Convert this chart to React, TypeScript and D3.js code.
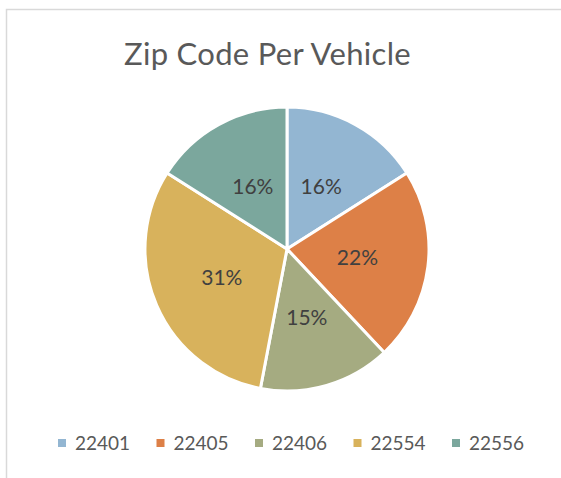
import { useEffect, useRef } from 'react';
import * as d3 from 'd3';

const zipCodes = ['22401', '22405', '22406', '22554', '22556'];
const vehicleCounts = [16, 22, 15, 31, 16];
const sliceColors = ['#93b6d2', '#dd8047', '#a5ab81', '#d8b25c', '#7ba79d'];

const chartTitle = 'Zip Code Per Vehicle';

export default function App() {
  const svgRef = useRef<SVGSVGElement | null>(null);

  useEffect(() => {
    if (!svgRef.current) return;
    const svg = d3.select(svgRef.current);
    svg.selectAll('*').remove();

    const width = 561;
    const height = 478;
    const cx = 287;
    const cy = 249;
    const radius = 142;
    const font = "'Lato', 'Open Sans', sans-serif";

    svg.attr('viewBox', `0 0 ${width} ${height}`);

    svg
      .append('rect')
      .attr('width', width)
      .attr('height', height)
      .attr('fill', '#ffffff');

    // chart frame, runs off right/bottom edges
    svg
      .append('rect')
      .attr('x', 6.5)
      .attr('y', 9.5)
      .attr('width', 700)
      .attr('height', 600)
      .attr('fill', 'none')
      .attr('stroke', '#d9d9d9')
      .attr('stroke-width', 1.5);

    svg
      .append('text')
      .attr('x', 267.5)
      .attr('y', 65)
      .attr('text-anchor', 'middle')
      .style('font-family', font)
      .style('font-size', '31px')
      .style('letter-spacing', '0.3px')
      .attr('fill', '#595959')
      .text(chartTitle);

    const data = zipCodes.map((zip, i) => ({ zip, value: vehicleCounts[i] }));
    const total = d3.sum(vehicleCounts);

    const color = d3.scaleOrdinal<string, string>().domain(zipCodes).range(sliceColors);

    const pie = d3
      .pie<{ zip: string; value: number }>()
      .value((d) => d.value)
      .sort(null);

    const arc = d3
      .arc<d3.PieArcDatum<{ zip: string; value: number }>>()
      .innerRadius(0)
      .outerRadius(radius);

    const g = svg.append('g').attr('transform', `translate(${cx},${cy})`);
    const arcs = pie(data);

    g.selectAll('path')
      .data(arcs)
      .join('path')
      .attr('d', arc)
      .attr('fill', (d) => color(d.data.zip))
      .attr('stroke', '#ffffff')
      .attr('stroke-width', 3)
      .attr('stroke-linejoin', 'round');

    g.selectAll('text')
      .data(arcs)
      .join('text')
      .attr('transform', (d) => `translate(${arc.centroid(d)})`)
      .attr('text-anchor', 'middle')
      .attr('dy', '0.35em')
      .style('font-family', font)
      .style('font-size', '21px')
      .attr('fill', '#404040')
      .text((d) => `${Math.round((d.data.value / total) * 100)}%`);

    const legendX = d3.scalePoint<string>().domain(zipCodes).range([58, 452]);
    const legendY = 443;

    const legend = svg
      .append('g')
      .selectAll('g')
      .data(zipCodes)
      .join('g')
      .attr('transform', (d) => `translate(${legendX(d)},${legendY})`);

    legend
      .append('rect')
      .attr('x', 0)
      .attr('y', -4)
      .attr('width', 8)
      .attr('height', 8)
      .attr('fill', (d) => color(d));

    legend
      .append('text')
      .attr('x', 17)
      .attr('dy', '0.35em')
      .style('font-family', font)
      .style('font-size', '19px')
      .attr('fill', '#595959')
      .text((d) => d);
  }, []);

  return (
    <svg
      ref={svgRef}
      width={561}
      height={478}
      style={{ position: 'absolute', left: 0, top: 0, display: 'block' }}
    />
  );
}
